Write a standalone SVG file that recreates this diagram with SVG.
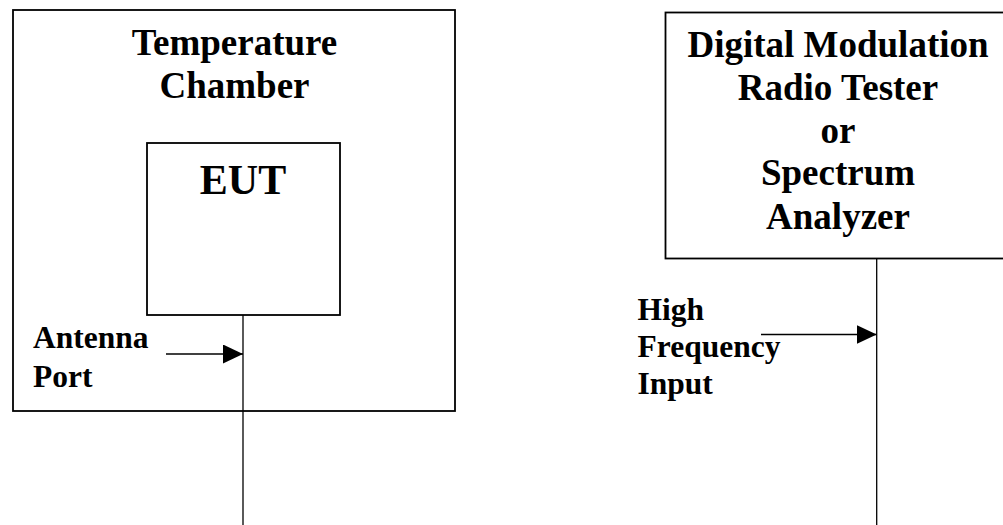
<svg xmlns="http://www.w3.org/2000/svg" width="1003" height="525" viewBox="0 0 1003 525">
<style>
.box{fill:none;stroke:#000;stroke-width:1.8}
.ln{fill:none;stroke:#000;stroke-width:1.3}
.t{font-family:"Liberation Serif","Times New Roman",serif;font-weight:bold;fill:#000}
.big{font-size:37px;text-anchor:middle}
.lbl{font-size:31.5px}
</style>
<defs>
<marker id="ah" markerUnits="userSpaceOnUse" markerWidth="20" markerHeight="20" refX="20" refY="9.5" orient="auto">
<path d="M0,0 L20,9.5 L0,19 Z" fill="#000"/>
</marker>
</defs>
<rect width="1003" height="525" fill="#fff"/>
<g id="chamber">
<rect class="box" x="13" y="10" width="442" height="401"/>
<text class="t big" x="234.5" y="55">Temperature</text>
<text class="t big" x="234.5" y="98">Chamber</text>
</g>
<g id="eut">
<rect class="box" x="147" y="143" width="193" height="172"/>
<text class="t" x="243" y="194" font-size="42" text-anchor="middle">EUT</text>
</g>
<g id="tester">
<rect class="box" x="665.5" y="12.5" width="345" height="246"/>
<text class="t big" x="838" y="57">Digital Modulation</text>
<text class="t big" x="838" y="100">Radio Tester</text>
<text class="t big" x="838" y="143">or</text>
<text class="t big" x="838" y="185">Spectrum</text>
<text class="t big" x="838" y="229">Analyzer</text>
</g>
<g id="antenna-label">
<text class="t lbl" x="33" y="348">Antenna</text>
<text class="t lbl" x="33" y="386.5">Port</text>
</g>
<g id="hf-label">
<text class="t lbl" x="637.5" y="320">High</text>
<text class="t lbl" x="637.5" y="357">Frequency</text>
<text class="t lbl" x="637.5" y="393.5">Input</text>
</g>
<g id="connectors">
<line class="ln" x1="243" y1="315" x2="243" y2="525"/>
<line class="ln" x1="876.7" y1="258.5" x2="876.7" y2="525"/>
<line class="ln" x1="166" y1="354" x2="243" y2="354" marker-end="url(#ah)"/>
<line class="ln" x1="761" y1="334.5" x2="876.7" y2="334.5" marker-end="url(#ah)"/>
</g>
</svg>
